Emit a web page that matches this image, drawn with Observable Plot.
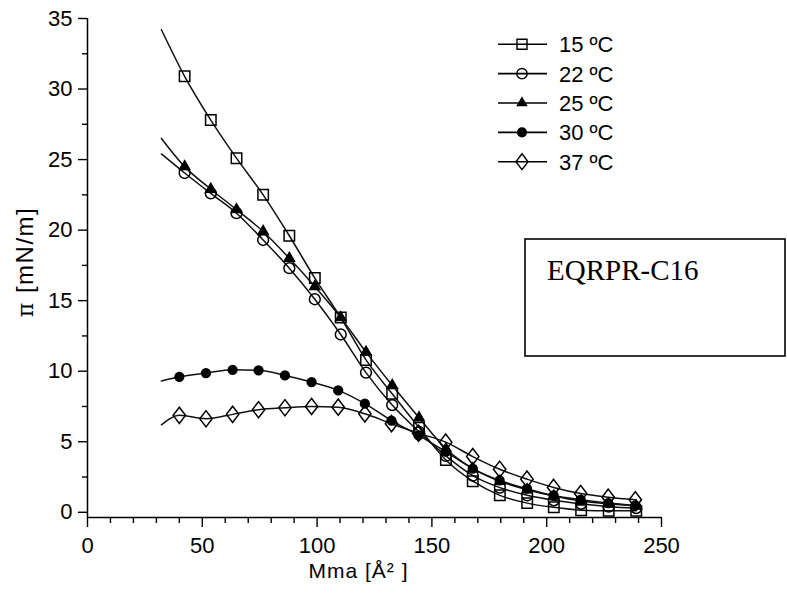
<!DOCTYPE html>
<html>
<head>
<meta charset="utf-8">
<script src="https://cdn.jsdelivr.net/npm/d3@7"></script>
<script src="https://cdn.jsdelivr.net/npm/@observablehq/plot@0.6"></script>
<style>
  html, body { margin: 0; padding: 0; background: #fff; }
  #chart { width: 787px; height: 595px; overflow: hidden; }
</style>
</head>
<body>
<div id="chart"></div>
<script>
// ---- data ----
const temps = ["15 ºC", "22 ºC", "25 ºC", "30 ºC", "37 ºC"];
// molecular area of the markers (Å²)
const mmaA = [42.3, 53.7, 64.9, 76.5, 87.9, 99.0, 110.3, 121.3, 132.7, 144.4, 156.1, 167.8, 179.6, 191.5, 203.1, 215.0, 227.0, 239.0];
const mmaB = [40.0, 51.6, 63.2, 74.5, 86.0, 97.6, 109.2, 120.8, 132.4, 144.2, 156.0, 167.8, 179.5, 191.4, 203.0, 214.8, 226.8, 238.6];
// surface pressure (mN/m)
const pi15 = [30.9, 27.8, 25.1, 22.5, 19.6, 16.6, 13.8, 10.8, 8.4, 6.0, 3.7, 2.2, 1.2, 0.65, 0.35, 0.15, 0.1, 0.1];
const pi22 = [24.05, 22.6, 21.2, 19.3, 17.3, 15.1, 12.6, 9.9, 7.6, 5.7, 4.0, 2.6, 1.75, 1.2, 0.85, 0.6, 0.4, 0.3];
const pi25 = [24.5, 22.9, 21.45, 19.9, 18.0, 16.0, 13.8, 11.35, 9.0, 6.7, 4.5, 3.1, 2.2, 1.6, 1.15, 0.8, 0.6, 0.45];
const pi30 = [9.6, 9.87, 10.1, 10.06, 9.7, 9.23, 8.64, 7.7, 6.5, 5.45, 4.3, 3.1, 2.26, 1.67, 1.19, 0.89, 0.65, 0.48];
const pi37 = [6.87, 6.63, 6.94, 7.27, 7.41, 7.5, 7.45, 6.98, 6.28, 5.6, 4.97, 3.95, 3.05, 2.35, 1.76, 1.33, 1.07, 0.89];
// start of each fitted curve (left end)
const fitStartMma = 32.2;
const fitStartPi = [34.2, 25.4, 26.5, 9.3, 6.2];
// axes
const xMajor = [0, 50, 100, 150, 200, 250];
const xMinor = [10, 20, 30, 40, 60, 70, 80, 90, 110, 120, 130, 140, 160, 170, 180, 190, 210, 220, 230, 240];
const yMajor = [0, 5, 10, 15, 20, 25, 30, 35];
const yMinor = [2.5, 7.5, 12.5, 17.5, 22.5, 27.5, 32.5];
const xTitle = "Mma [Å² ]";
const yTitleSymbol = "π";
const yTitleUnit = " [mN/m]";
const boxLabel = "EQRPR-C16";

// ---- styling ----
const diamond = {
  draw(ctx, size) {
    const r = Math.sqrt(size / Math.PI);
    const h = r * 1.5, w = r * 1.15;
    ctx.moveTo(0, -h); ctx.lineTo(w, 0); ctx.lineTo(0, h); ctx.lineTo(-w, 0); ctx.closePath();
  }
};
const styles = [
  {symbol: "square", r: 5.9, fill: "none"},
  {symbol: "circle", r: 5.4, fill: "none"},
  {symbol: "triangle", r: 3.8, fill: "#000"},
  {symbol: "circle", r: 4.4, fill: "#000"},
  {symbol: diamond, r: 5.4, fill: "none"}
];
const legendStyles = [
  {symbol: d3.symbolSquare, size: 100, fill: "none"},
  {symbol: d3.symbolCircle, size: 85, fill: "none"},
  {symbol: d3.symbolTriangle, size: 36, fill: "#000"},
  {symbol: d3.symbolCircle, size: 60, fill: "#000"},
  {symbol: diamond, size: 88, fill: "none"}
];

const series = [
  {t: temps[0], x: mmaA, y: pi15, s: fitStartPi[0]},
  {t: temps[1], x: mmaA, y: pi22, s: fitStartPi[1]},
  {t: temps[2], x: mmaA, y: pi25, s: fitStartPi[2]},
  {t: temps[3], x: mmaB, y: pi30, s: fitStartPi[3]},
  {t: temps[4], x: mmaB, y: pi37, s: fitStartPi[4]}
];
const points = series.map(s => s.y.map((v, i) => ({t: s.t, x: s.x[i], y: v})));
const curves = series.flatMap((s, k) => [{t: s.t, x: fitStartMma, y: s.s}, ...points[k]]);

const font = "'Liberation Sans', Arial, sans-serif";
const ink = "#000";

const chart = Plot.plot({
  width: 787,
  height: 595,
  marginLeft: 87,
  marginRight: 126,
  marginTop: 18,
  marginBottom: 78,
  style: {fontFamily: font, fontSize: "22px", color: ink, background: "#fff", overflow: "visible"},
  x: {domain: [0, 250]},
  y: {domain: [-0.37, 35]},
  marks: [
    Plot.line(curves, {x: "x", y: "y", z: "t", curve: "monotone-x", stroke: "#111", strokeWidth: 1.5}),
    ...points.map((p, k) => Plot.dot(p, {
      x: "x", y: "y", symbol: styles[k].symbol, r: styles[k].r,
      fill: styles[k].fill, stroke: "#000", strokeWidth: 1.5
    })),
    Plot.ruleX([0], {stroke: ink, strokeWidth: 1.5}),
    Plot.ruleY([-0.37], {stroke: ink, strokeWidth: 1.5}),
    Plot.axisX({ticks: xMajor, tickSize: 10, tickPadding: 10, label: null, strokeWidth: 1.4, fontSize: 22}),
    Plot.axisX({ticks: xMinor, tickSize: 6, tickFormat: () => "", label: null, strokeWidth: 1.4}),
    Plot.axisY({ticks: yMajor, tickSize: 9, tickPadding: 6, label: null, strokeWidth: 1.4, fontSize: 22}),
    Plot.axisY({ticks: yMinor, tickSize: 5, tickFormat: () => "", label: null, strokeWidth: 1.4}),
    Plot.text([xTitle], {frameAnchor: "bottom", dx: -16, dy: 54, fontSize: 21, fill: ink, textAnchor: "middle", lineAnchor: "middle"}),
    Plot.text([yTitleSymbol + yTitleUnit], {frameAnchor: "left", rotate: -90, dx: -62, dy: -6, fontSize: 24, fill: ink, textAnchor: "middle", lineAnchor: "middle"})
  ]
});

document.getElementById("chart").appendChild(chart);

const svg = d3.select(chart);
// axis titles: serif π and slightly wider spacing like the reference
svg.selectAll("text").filter(function() { return this.textContent === yTitleSymbol + yTitleUnit; })
  .each(function() {
    const t = d3.select(this);
    t.text(null).attr("text-anchor", "middle").style("text-anchor", "middle").style("letter-spacing", "1.5px");
    t.append("tspan").attr("font-family", "'DejaVu Serif', 'Liberation Serif', serif").attr("font-size", 22).text(yTitleSymbol);
    t.append("tspan").text(yTitleUnit);
  });
svg.selectAll("text").filter(function() { return this.textContent === xTitle; })
  .attr("text-anchor", "middle").style("letter-spacing", "1px");

// legend
const lg = svg.append("g").attr("class", "legend").attr("text-anchor", "start");
temps.forEach((t, i) => {
  const cy = 44.3 + i * 29.35;
  lg.append("line").attr("x1", 498).attr("x2", 547).attr("y1", cy).attr("y2", cy)
    .attr("stroke", ink).attr("stroke-width", 1.6);
  lg.append("path").attr("d", d3.symbol(legendStyles[i].symbol, legendStyles[i].size)())
    .attr("transform", `translate(522,${cy})`)
    .attr("fill", legendStyles[i].fill).attr("stroke", ink).attr("stroke-width", 1.4);
  lg.append("text").attr("x", 559).attr("y", cy).attr("dy", "0.36em").attr("text-anchor", "start")
    .attr("font-family", font).attr("font-size", 22).attr("fill", ink).text(t);
});

// annotation box
const box = svg.append("g").attr("class", "annotation");
box.append("rect").attr("x", 525).attr("y", 239).attr("width", 260).attr("height", 117)
  .attr("fill", "#fff").attr("stroke", ink).attr("stroke-width", 1.6);
box.append("text").attr("x", 547).attr("y", 280).attr("text-anchor", "start")
  .attr("font-family", "'Liberation Serif', 'Times New Roman', serif").attr("font-size", 29)
  .attr("fill", ink).text(boxLabel);
</script>
</body>
</html>
